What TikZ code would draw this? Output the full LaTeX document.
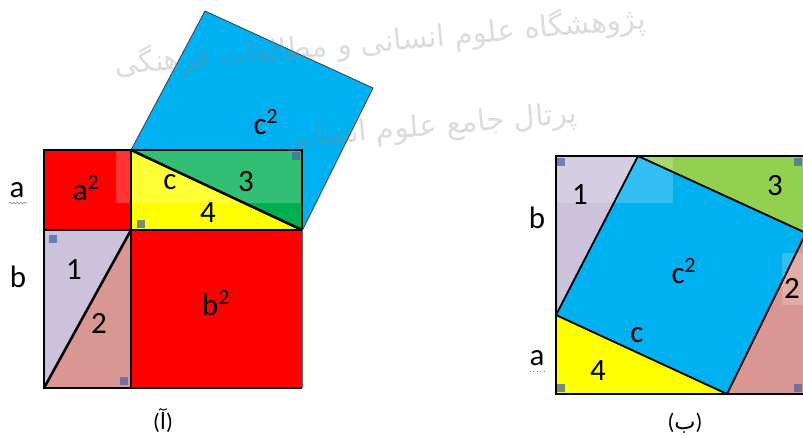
\documentclass[tikz,border=0pt]{standalone}
\usepackage{fontspec}
\setmainfont{Carlito}
\newfontfamily\arabicfont[Script=Arabic]{DejaVu Sans}
\TeXXeTstate=1
\usetikzlibrary{decorations.pathmorphing}

\definecolor{sqred}{RGB}{255,0,0}
\definecolor{sqblue}{RGB}{0,176,240}
\definecolor{tyellow}{RGB}{255,255,0}
\definecolor{tgreen}{RGB}{0,176,80}
\definecolor{tlime}{RGB}{146,208,80}
\definecolor{tlav}{RGB}{204,194,220}
\definecolor{tpink}{RGB}{218,150,146}
\definecolor{handle}{RGB}{72,104,170}

\tikzset{
  lbl/.style={font=\fontsize{22}{26}\selectfont, inner sep=0pt},
  capt/.style={font=\fontsize{16}{19}\selectfont, inner sep=0pt},
  hndl/.style={fill=handle, fill opacity=0.75, minimum size=0.22cm, inner sep=0pt},
  wmark/.style={font=\fontsize{21}{24}\selectfont\arabicfont, text=black!45, text opacity=0.3, inner sep=0pt},
  heavy/.style={line width=1.8pt},
  thin/.style={line width=1.3pt}
}

\begin{document}
\begin{tikzpicture}[x=0.025cm, y=-0.025cm]
\useasboundingbox (0,0) rectangle (803,437);

% Figura (a)
	\fill[sqblue] (131,150) -- (205,11) -- (373,88) -- (303,229) -- cycle;
	\draw[line width=0.6pt, black!75] (131,150) -- (205,11) -- (373,88) -- (303,229);

	\fill[sqred] (44,150) rectangle (131,230);
	\fill[sqred] (131,230) rectangle (302,388);
	\fill[tyellow] (131,150) -- (131,230) -- (302,230) -- cycle;
	\fill[tgreen] (131,150) -- (302,150) -- (302,230) -- cycle;
	\fill[tlav] (44,230) -- (131,230) -- (44,388) -- cycle;
	\fill[tpink] (131,230) -- (131,388) -- (44,388) -- cycle;
	\fill[white, opacity=0.2] (116,150) rectangle (302,203);

	\draw[heavy] (302,230) -- (302,150) -- (44,150) -- (44,388) -- (302,388);
	\draw[line width=0.6pt, black!60] (302,230) -- (302,388);
	\draw[heavy] (44,230) -- (302,230);
	\draw[heavy] (131,150) -- (131,388);
	\draw[heavy] (131,150) -- (302,230);
	\draw[heavy] (44,388) -- (131,230);

% Figura (b)
	\fill[tlav] (556,156) -- (638,156) -- (556,315) -- cycle;
	\fill[tlime] (638,156) -- (806,156) -- (806,233) -- cycle;
	\fill[tpink] (806,233) -- (806,394) -- (727,394) -- cycle;
	\fill[tyellow] (556,315) -- (556,394) -- (727,394) -- cycle;
	\fill[sqblue] (638,156) -- (806,233) -- (727,394) -- (556,315) -- cycle;
	\fill[white, opacity=0.2] (556,156) rectangle (673,203);
	\fill[white, opacity=0.2] (782,253) rectangle (803,305);

	\draw[thin] (806,156) -- (556,156) -- (556,394) -- (806,394);
	\draw[thin] (638,156) -- (806,233) -- (727,394) -- (556,315) -- cycle;

% Marcas
	\foreach \hx/\hy [count=\i] in {141/224, 296/156, 53/239, 124/381, 561/162, 798/162, 561/388, 798/388}
		\node[hndl] (h\i) at (\hx,\hy) {};

% Etiquetas (a)
	\node[lbl] (la) at (17,190) {a};
	\draw[black!50, decorate, decoration={snake, amplitude=0.5pt, segment length=2.5pt}] (9,203) -- (27,203);
	\node[lbl] (la2) at (86,188) {a\textsuperscript{2}};
	\node[lbl] (lc) at (170,182) {c};
	\node[lbl] (l3) at (246,182) {3};
	\node[lbl] (l4) at (208,213) {4};
	\node[lbl] (lc2) at (266,122) {c\textsuperscript{2}};
	\node[lbl] (lb) at (18,277) {b};
	\node[lbl] (l1) at (74,270) {1};
	\node[lbl] (l2) at (99,323) {2};
	\node[lbl] (lb2) at (216,303) {b\textsuperscript{2}};
	\node[capt] (capa) at (163,420) {({\arabicfont آ})};

% Etiquetas (b)
	\node[lbl] (rb) at (537,218) {b};
	\node[lbl] (r1) at (580,195) {1};
	\node[lbl] (r3) at (775,186) {3};
	\node[lbl] (rc2) at (684,271) {c\textsuperscript{2}};
	\node[lbl] (r2) at (792,288) {2};
	\node[lbl] (rc) at (637,335) {c};
	\node[lbl] (ra) at (537,358) {a};
	\draw[black!50, dotted] (530,371) -- (545,371);
	\node[lbl] (r4) at (598,371) {4};
	\node[capt] (capb) at (685,423) {({\arabicfont ب})};

% Marca de agua
	\node[wmark, rotate=5] (wm1) at (380,42) {\beginR پژوهشگاه علوم انسانی و مطالعات فرهنگی\endR};
	\node[wmark, rotate=5] (wm2) at (430,128) {\beginR پرتال جامع علوم انسانی\endR};
\end{tikzpicture}
\end{document}
